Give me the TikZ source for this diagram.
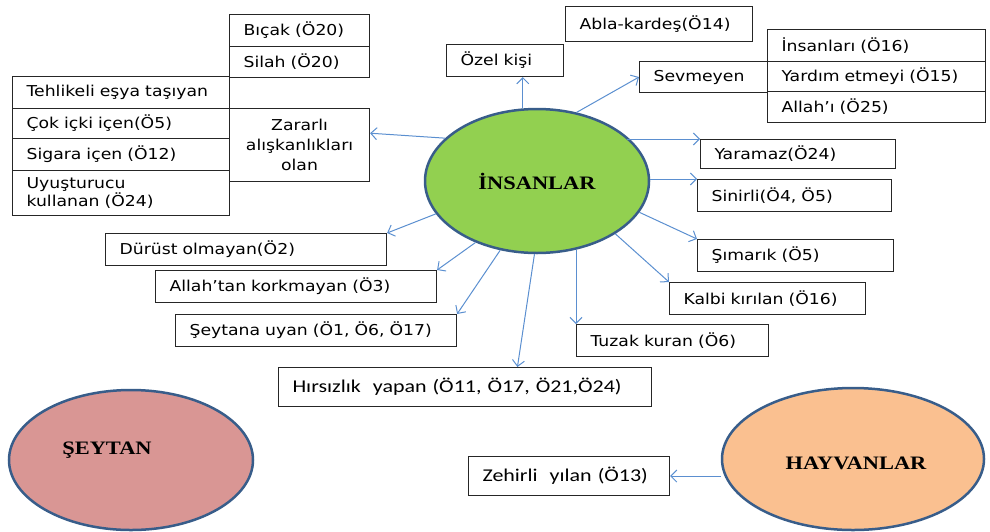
\documentclass[tikz,border=0pt]{standalone}
\usepackage{fontspec}
\setmainfont{DejaVu Sans}[FakeStretch=1.15]
\newfontfamily\calf{Carlito}[FakeStretch=1.22]
\newfontfamily\serf{Liberation Serif}[FakeStretch=1.18]
\usetikzlibrary{shapes.geometric,arrows.meta,calc}
\definecolor{insgreen}{HTML}{92D050}
\definecolor{seyred}{HTML}{D99694}
\definecolor{hayorange}{HTML}{FAC090}
\definecolor{ellblue}{HTML}{385D8A}
\definecolor{arrblue}{HTML}{5B8FD0}
\begin{document}
\begin{tikzpicture}[x=1pt,y=-1pt,
  box/.style={draw=black!85, line width=1.1pt, rectangle, anchor=north west,
    inner xsep=14pt, inner ysep=0pt, align=left, font=\fontsize{15}{18}\selectfont},
  cbox/.style={box, font=\calf\fontsize{18}{20}\selectfont},
  ell/.style={ellipse, draw=ellblue, line width=2.5pt, inner sep=0pt},
  lbl/.style={font=\serf\bfseries\fontsize{19}{22}\selectfont, inner sep=0pt},
  arr/.style={draw=arrblue, line width=1pt, -{Straight Barb[length=6pt,width=12pt]}}]
\useasboundingbox (0,0) rectangle (990,531);

% ellipses
\node[ell, fill=insgreen, minimum width=224pt, minimum height=144pt, lbl] (ins) at (537,181) {İNSANLAR};
\node[ell, fill=seyred, minimum width=244pt, minimum height=140pt] (seyt) at (131,460) {};
\node[lbl, anchor=base] (seytl) at (107,454) {ŞEYTAN};
\node[ell, fill=hayorange, minimum width=262pt, minimum height=142pt] (hay) at (853,459) {};
\node[lbl, anchor=base] (hayl) at (856,469) {HAYVANLAR};

% left cluster
\node[box, text width=112pt, minimum height=32pt] (bic) at (229,14) {Bıçak (Ö20)};
\node[box, text width=112pt, minimum height=31pt] (sil) at (229,46) {Silah (Ö20)};
\node[box, text width=189pt, minimum height=32pt] (teh) at (12,76) {\mbox{Tehlikeli eşya taşıyan}};
\node[box, text width=189pt, minimum height=30pt] (cok) at (12,108) {Çok içki içen(Ö5)};
\node[box, text width=189pt, minimum height=32pt] (sig) at (12,138) {Sigara içen (Ö12)};
\node[box, text width=189pt, minimum height=45pt] (uyu) at (12,170) {Uyuşturucu\\kullanan (Ö24)};
\node[box, align=center, inner xsep=0pt, text width=140pt, minimum height=73pt,
  font=\fontsize{15}{20}\selectfont] (zar) at (229,108) {Zararlı\\alışkanlıkları\\olan};

% top
\node[box, text width=89pt, minimum height=32pt] (oz) at (446,44) {Özel kişi};
\node[box, text width=159pt, minimum height=35pt] (abl) at (565,6) {Abla-kardeş(Ö14)};
\node[box, text width=100pt, minimum height=31pt] (sev) at (639,61) {Sevmeyen};
\node[box, text width=190pt, minimum height=32pt] (insl) at (767,29) {İnsanları (Ö16)};
\node[box, text width=190pt, minimum height=30pt] (yard) at (767,61) {\mbox{Yardım etmeyi (Ö15)}};
\node[box, text width=190pt, minimum height=31pt] (alli) at (767,91) {Allah’ı (Ö25)};

% right
\node[box, text width=167pt, minimum height=29pt] (yar) at (700,139) {Yaramaz(Ö24)};
\node[box, text width=166pt, minimum height=32pt] (sin) at (697,179) {Sinirli(Ö4, Ö5)};
\node[box, text width=168pt, minimum height=32pt] (sim) at (697,239) {Şımarık (Ö5)};
\node[box, text width=168pt, minimum height=32pt] (kal) at (669,282) {Kalbi kırılan (Ö16)};
\node[box, text width=164pt, minimum height=32pt] (tuz) at (576,324) {Tuzak kuran (Ö6)};

% lower left
\node[box, text width=253pt, minimum height=32pt] (dur) at (105,233) {Dürüst olmayan(Ö2)};
\node[box, text width=253pt, minimum height=32pt] (allt) at (155,270) {Allah’tan korkmayan (Ö3)};
\node[box, text width=253pt, minimum height=32pt] (seyu) at (175,314) {Şeytana uyan (Ö1, Ö6, Ö17)};
\node[cbox, text width=345pt, minimum height=39pt] (hir) at (278,367) {\mbox{Hırsızlık\ \ yapan (Ö11, Ö17, Ö21,Ö24)}};
\node[cbox, text width=173pt, minimum height=39pt] (zeh) at (468,456) {\mbox{Zehirli\ \ yılan (Ö13)}};

% helper points
\coordinate (ozb) at ($(oz.south west)!0.65!(oz.south east)$);
\coordinate (hirt) at ($(hir.north west)!0.64!(hir.north east)$);
\coordinate (zare) at ($(zar.north east)!0.34!(zar.south east)$);

% arrows
\draw[arr] (ins.155) -- (zare);
\draw[arr] (ozb |- ins.north) -- (ozb);
\draw[arr] (ins.60) -- (sev.west);
\draw[arr] (ins.26 |- yar.north west) -- (yar.north west);
\draw[arr] (ins.east |- sin.north west) -- (sin.north west);
\draw[arr] (ins.-17) -- (sim.north west);
\draw[arr] (ins.-34) -- (kal.north west);
\draw[arr] (tuz.north west |- ins.-60) -- (tuz.north west);
\draw[arr] (ins.-92) -- (hirt);
\draw[arr] (ins.-118) -- (seyu.north east);
\draw[arr] (ins.-135) -- (allt.north east);
\draw[arr] (ins.-162) -- (dur.north east);
\draw[arr] (hay.west |- zeh.east) -- (zeh.east);
\end{tikzpicture}
\end{document}
